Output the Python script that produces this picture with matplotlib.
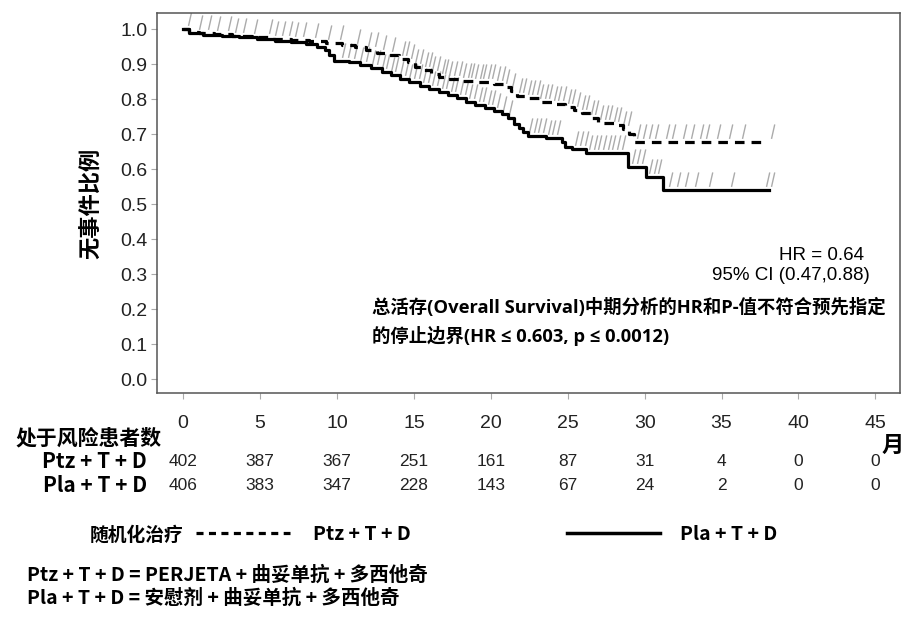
import numpy as np
import matplotlib
matplotlib.use("Agg")
import matplotlib.pyplot as plt
from matplotlib.path import Path
from matplotlib.transforms import blended_transform_factory

# Kaplan-Meier steps
ptz_t = [0, 0.4, 1.0, 2.0, 3.2, 4.5, 5.8, 7.0, 8.2, 9.3, 10.3, 11.2, 11.9, 12.6, 13.3, 14.0,
         14.6, 15.1, 15.6, 16.1, 16.6, 17.2, 18.0, 19.0, 20.2, 20.9, 21.3, 21.7, 22.4, 23.2,
         24.0, 24.8, 25.4, 25.9, 26.5, 27.0, 28.0, 28.6, 29.0, 29.3, 37.6]
ptz_s = [1.0, 0.993, 0.988, 0.985, 0.98, 0.977, 0.973, 0.969, 0.965, 0.961, 0.955, 0.948,
         0.94, 0.933, 0.925, 0.915, 0.905, 0.893, 0.883, 0.873, 0.864, 0.858, 0.853, 0.849,
         0.843, 0.835, 0.822, 0.81, 0.802, 0.793, 0.785, 0.778, 0.77, 0.76, 0.745, 0.732,
         0.727, 0.715, 0.70, 0.677, 0.677]
pla_t = [0, 0.4, 1.3, 2.5, 3.6, 4.8, 6.0, 7.0, 8.0, 8.7, 9.2, 9.5, 9.8, 10.8, 11.5, 12.2,
         12.9, 13.5, 14.1, 14.7, 15.4, 16.0, 16.6, 17.2, 17.8, 18.4, 19.0, 19.6, 20.2, 20.7,
         21.1, 21.5, 21.8, 22.1, 22.4, 23.6, 24.6, 24.8, 25.3, 26.2, 28.9, 30.1, 31.2, 38.1]
pla_s = [1.0, 0.99, 0.983, 0.98, 0.977, 0.972, 0.967, 0.962, 0.958, 0.95, 0.94, 0.925,
         0.909, 0.905, 0.898, 0.888, 0.878, 0.868, 0.858, 0.848, 0.837, 0.83, 0.82, 0.812,
         0.802, 0.793, 0.783, 0.774, 0.766, 0.758, 0.745, 0.73, 0.718, 0.705, 0.694, 0.688,
         0.676, 0.663, 0.656, 0.645, 0.606, 0.577, 0.54, 0.54]

# censoring times
ptz_cens = [0.3, 1.0, 1.6, 2.2, 2.9, 3.4, 3.9, 4.6, 5.6, 6.0, 6.4, 6.9, 7.3, 7.8, 8.6, 9.4,
            10.2, 11.3, 12.0, 12.5, 13.0, 13.6, 14.2, 14.5, 14.8, 15.1, 15.4, 15.7, 16.0,
            16.2, 16.5, 16.8, 17.0, 17.3, 17.6, 17.9, 18.2, 18.5, 18.7, 19.0, 19.3, 19.5,
            19.8, 20.1, 20.4, 20.7, 21.0, 21.4, 21.8, 22.1, 22.4, 22.7, 23.0, 23.2, 23.5,
            23.8, 24.1, 24.4, 24.7, 25.0, 25.3, 25.6, 25.9, 26.2, 26.5, 26.8, 27.1, 27.4,
            27.7, 28.0, 28.3, 28.6, 28.9, 29.5, 29.9, 30.3, 30.7, 31.4, 31.8, 32.5, 33.0,
            33.6, 34.0, 34.7, 35.5, 36.3, 38.2]
pla_cens = [10.3, 10.7, 11.1, 11.5, 11.9, 12.3, 12.6, 12.9, 13.2, 13.5, 13.8, 14.1, 14.4,
            14.7, 15.0, 15.3, 15.6, 15.9, 16.2, 16.5, 16.8, 17.1, 17.4, 17.7, 18.0, 18.3,
            18.6, 18.9, 19.2, 19.5, 19.8, 20.1, 20.4, 20.8, 21.2, 22.5, 22.8, 23.1, 23.4,
            23.7, 24.0, 24.3, 25.5, 25.8, 26.1, 26.4, 26.7, 27.0, 27.3, 27.6, 27.9, 28.2,
            28.5, 29.2, 29.5, 29.8, 30.3, 30.6, 30.9, 31.6, 32.1, 32.6, 33.3, 34.2, 35.6,
            37.9, 38.2]

x_ticks = [0, 5, 10, 15, 20, 25, 30, 35, 40, 45]
ptz_risk = [402, 387, 367, 251, 161, 87, 31, 4, 0, 0]
pla_risk = [406, 383, 347, 228, 143, 67, 24, 2, 0, 0]
y_ticks = [0.0, 0.1, 0.2, 0.3, 0.4, 0.5, 0.6, 0.7, 0.8, 0.9, 1.0]

CJK = ["Noto Sans CJK SC", "DejaVu Sans"]
MIX = ["Open Sans", "Noto Sans CJK SC", "DejaVu Sans"]
NUM = ["Liberation Sans", "DejaVu Sans"]


def surv_at(t, s, x):
    idx = np.searchsorted(t, x, side="right") - 1
    return np.array(s)[idx]


fig = plt.figure(figsize=(9.06, 6.18), dpi=100)
ax = fig.add_axes([157 / 906, 1 - 393 / 618, 743 / 906, 380 / 618])

tick_mark = Path([(0, 0.2), (0.18, 1)], [Path.MOVETO, Path.LINETO])
ax.plot(ptz_cens, surv_at(ptz_t, ptz_s, ptz_cens), ls="none", marker=tick_mark,
        markersize=26, markeredgecolor="#ababab", markeredgewidth=1.0)
ax.plot(pla_cens, surv_at(pla_t, pla_s, pla_cens), ls="none", marker=tick_mark,
        markersize=26, markeredgecolor="#ababab", markeredgewidth=1.0)

ax.step(ptz_t, ptz_s, where="post", color="black", lw=2.3, ls=(0, (3, 2.2)))
ax.step(pla_t, pla_s, where="post", color="black", lw=2.3)

ax.set_xlim(-1.7, 46.6)
ax.set_ylim(-0.04, 1.046)
ax.set_yticks(y_ticks)
ax.set_yticklabels([f"{v:.1f}" for v in y_ticks], fontsize=14, family=NUM,
                   color="#222222")
ax.set_xticks(x_ticks)
ax.set_xticklabels([str(v) for v in x_ticks], fontsize=14, family=NUM, color="#222222")
ax.tick_params(axis="y", length=4, width=0.8, color="#aaaaaa", pad=3)
ax.tick_params(axis="x", length=4, width=0.8, color="#aaaaaa", pad=12)
for sp in ax.spines.values():
    sp.set_color("#555555")
    sp.set_linewidth(1.1)

ax.set_ylabel("无事件比例", family=CJK, fontsize=16, fontweight="bold", labelpad=12)

ax.text(0.952, 0.363, "HR = 0.64", transform=ax.transAxes, ha="right", va="center",
        fontsize=13.5, family=NUM)
ax.text(0.959, 0.31, "95% CI (0.47,0.88)", transform=ax.transAxes, ha="right", va="center",
        fontsize=13.5, family=NUM)
ax.text(0.289, 0.186, "总活存(Overall Survival)中期分析的HR和P-值不符合预先指定\n"
        "的停止边界(HR ≤ 0.603, p ≤ 0.0012)", transform=ax.transAxes, ha="left",
        va="center", fontsize=13.2, fontweight="bold", family=MIX, linespacing=1.55)

# number at risk table
tr = blended_transform_factory(ax.transData, fig.transFigure)
fig.text(15 / 906, 1 - 438 / 618, "处于风险患者数", family=CJK, fontsize=15,
         fontweight="bold", ha="left", va="center")
fig.text(147 / 906, 1 - 462 / 618, "Ptz + T + D", family=CJK, fontsize=15,
         fontweight="bold", ha="right", va="center")
fig.text(147 / 906, 1 - 485 / 618, "Pla + T + D", family=CJK, fontsize=15,
         fontweight="bold", ha="right", va="center")
for x, a, b in zip(x_ticks, ptz_risk, pla_risk):
    fig.text(x, 1 - 462 / 618, str(a), transform=tr, ha="center", va="center",
             fontsize=12.5, family=NUM, color="#222222")
    fig.text(x, 1 - 485 / 618, str(b), transform=tr, ha="center", va="center",
             fontsize=12.5, family=NUM, color="#222222")
fig.text(893 / 906, 1 - 445 / 618, "月", family=CJK, fontsize=16, fontweight="bold",
         ha="center", va="center")

# legend
fig.text(90 / 906, 1 - 535 / 618, "随机化治疗", family=CJK, fontsize=13.5,
         fontweight="bold", ha="left", va="center")
fig.add_artist(plt.Line2D([196 / 906, 290 / 906], [1 - 533 / 618, 1 - 533 / 618],
                          color="black", lw=2.3, ls=(0, (2.2, 1.7))))
fig.text(313 / 906, 1 - 535 / 618, "Ptz + T + D", family=CJK, fontsize=14,
         fontweight="bold", ha="left", va="center")
fig.add_artist(plt.Line2D([567 / 906, 660 / 906], [1 - 533 / 618, 1 - 533 / 618],
                          color="black", lw=2.5))
fig.text(680 / 906, 1 - 535 / 618, "Pla + T + D", family=CJK, fontsize=14,
         fontweight="bold", ha="left", va="center")

fig.text(27 / 906, 1 - 575 / 618, "Ptz + T + D = PERJETA + 曲妥单抗 + 多西他奇", family=CJK,
         fontsize=14, fontweight="bold", ha="left", va="center")
fig.text(27 / 906, 1 - 598 / 618, "Pla + T + D = 安慰剂 + 曲妥单抗 + 多西他奇", family=CJK,
         fontsize=14, fontweight="bold", ha="left", va="center")

fig.savefig("out.png", dpi=100)
